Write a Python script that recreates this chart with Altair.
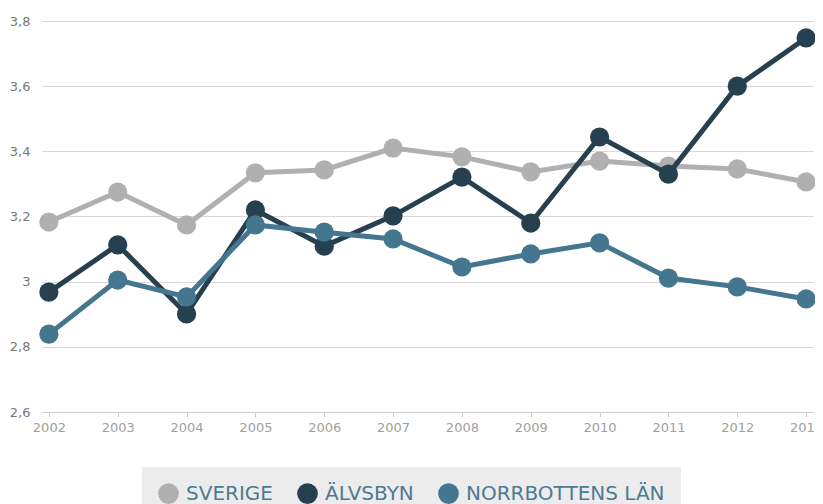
import altair as alt
import pandas as pd

years = [2002, 2003, 2004, 2005, 2006, 2007, 2008, 2009, 2010, 2011, 2012, 2013]
series_names = ["SVERIGE", "ÄLVSBYN", "NORRBOTTENS LÄN"]
sverige = [3.183, 3.275, 3.174, 3.334, 3.343, 3.410, 3.383, 3.337, 3.370, 3.355, 3.346, 3.306]
alvsbyn = [2.968, 3.113, 2.901, 3.220, 3.109, 3.202, 3.321, 3.180, 3.444, 3.330, 3.600, 3.748]
norrbotten = [2.839, 3.005, 2.953, 3.174, 3.152, 3.131, 3.045, 3.085, 3.119, 3.011, 2.984, 2.947]
colors = ["#b0b0b0", "#27404f", "#45768f"]

rows = []
for name, vals in zip(series_names, [sverige, alvsbyn, norrbotten]):
    for y, v in zip(years, vals):
        rows.append({"year": str(y), "value": v, "series": name})
df = pd.DataFrame(rows)

x = alt.X("year:O", title=None,
          scale=alt.Scale(type="point", padding=0.1),
          axis=alt.Axis(labelAngle=0, labelColor="#a0a0a0", labelFontSize=13,
                        labelFont="DejaVu Sans", domainColor="#cccccc",
                        tickColor="#cccccc", tickSize=5, labelPadding=4, grid=False))
y = alt.Y("value:Q", title=None,
          scale=alt.Scale(domain=[2.6, 3.8], nice=False, zero=False),
          axis=alt.Axis(values=[2.6, 2.8, 3.0, 3.2, 3.4, 3.6, 3.8],
                        labelExpr="replace(format(datum.value, '~g'), '.', ',')",
                        labelColor="#777777", labelFontSize=13, labelFont="DejaVu Sans",
                        domain=False, ticks=False, labelPadding=12,
                        gridColor="#d9d9d9", gridWidth=1))
color = alt.Color("series:N", title=None,
                  scale=alt.Scale(domain=series_names, range=colors),
                  sort=series_names,
                  legend=alt.Legend(orient="none", legendX=100, legendY=446,
                                    direction="horizontal", fillColor="#ececec",
                                    padding=16, symbolType="circle", symbolSize=430,
                                    symbolStrokeWidth=0, symbolOpacity=1,
                                    labelFontSize=20, labelFont="DejaVu Sans",
                                    labelColor="#4c7a93", columnPadding=24,
                                    labelOffset=7, labelLimit=400))

base = alt.Chart(df).encode(x=x, y=y, color=color)

layers = []
for name in series_names:
    sub = base.transform_filter(alt.datum.series == name)
    layers.append(sub.mark_line(strokeWidth=5))
    layers.append(sub.mark_circle(size=370, opacity=1))

chart = alt.layer(*layers).properties(
    width=771, height=391,
    background="white",
    autosize=alt.AutoSizeParams(type="none"),
    padding={"left": 34, "top": 13, "right": 2, "bottom": 100},
).configure_view(stroke=None, strokeWidth=0)

chart.save("out.html", embed_options={"renderer": "svg", "actions": False})
